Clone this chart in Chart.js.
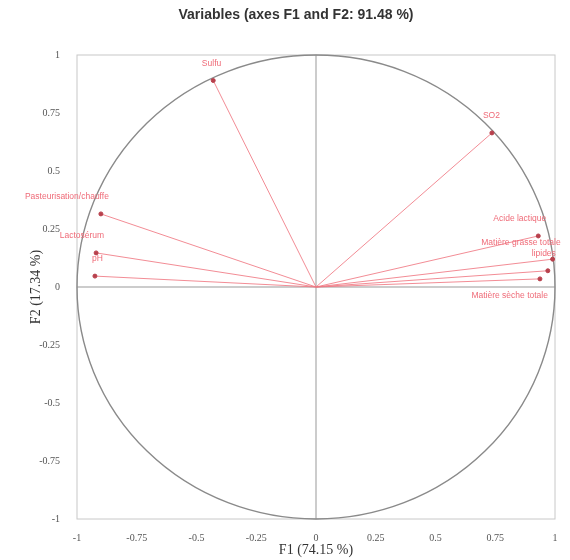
<!DOCTYPE html>
<html>
<head>
<meta charset="utf-8">
<script src="https://cdn.jsdelivr.net/npm/chart.js@4.4.0/dist/chart.umd.min.js"></script>
<style>
  html, body { margin: 0; padding: 0; background: #fff; }
  #wrap { width: 570px; height: 560px; }
</style>
</head>
<body>
<div id="wrap"><canvas id="myChart" width="570" height="560"></canvas></div>
<script>
  // variables (loadings on F1 / F2)
  const names = [
    'Sulfu',
    'SO2',
    'Pasteurisation/chauffe',
    'Lactosérum',
    'pH',
    'Acide lactique',
    'Matière grasse totale',
    'lipides',
    'Matière sèche totale'
  ];
  const f1 = [-0.43, 0.736, -0.90, -0.92, -0.925, 0.93, 0.99, 0.97, 0.937];
  const f2 = [0.89, 0.664, 0.315, 0.147, 0.047, 0.22, 0.12, 0.07, 0.035];
  const labelSide = ['above', 'above', 'above', 'above', 'above', 'above', 'above', 'above', 'below'];

  const tickValues = [-1, -0.75, -0.5, -0.25, 0, 0.25, 0.5, 0.75, 1];
  const tickLabels = ['-1', '-0.75', '-0.5', '-0.25', '0', '0.25', '0.5', '0.75', '1'];

  const lineColor = 'rgba(240, 120, 130, 0.85)';
  const pointColor = '#b8404c';
  const textColor = '#ef6b78';

  // one dataset per variable : a segment from origin to the loading
  const datasets = names.map(function(n, i) {
    return {
      label: n,
      data: [{x: 0, y: 0}, {x: f1[i], y: f2[i]}],
      borderColor: lineColor,
      borderWidth: 1,
      pointRadius: [0, 2],
      pointBackgroundColor: pointColor,
      pointBorderColor: pointColor,
      showLine: true,
      fill: false
    };
  });

  // draw frame, correlation circle, labels and title
  const circlePlugin = {
    id: 'circle',
    beforeDatasetsDraw(chart) {
      const ctx = chart.ctx;
      const a = chart.chartArea;
      const sx = chart.scales.x, sy = chart.scales.y;
      ctx.save();
      ctx.strokeStyle = '#c8c8c8';
      ctx.lineWidth = 1;
      ctx.strokeRect(a.left, a.top, a.right - a.left, a.bottom - a.top);
      ctx.strokeStyle = '#999';
      ctx.beginPath();
      ctx.moveTo(sx.getPixelForValue(0), a.top);
      ctx.lineTo(sx.getPixelForValue(0), a.bottom);
      ctx.moveTo(a.left, sy.getPixelForValue(0));
      ctx.lineTo(a.right, sy.getPixelForValue(0));
      ctx.stroke();
      const cx = sx.getPixelForValue(0), cy = sy.getPixelForValue(0);
      const rx = sx.getPixelForValue(1) - cx, ry = cy - sy.getPixelForValue(1);
      ctx.strokeStyle = '#8a8a8a';
      ctx.lineWidth = 1.4;
      ctx.beginPath();
      ctx.ellipse(cx, cy, rx, ry, 0, 0, Math.PI * 2);
      ctx.stroke();
      ctx.restore();
    },
    afterDatasetsDraw(chart) {
      const ctx = chart.ctx;
      const sx = chart.scales.x, sy = chart.scales.y;
      ctx.save();
      ctx.font = '8.5px "Liberation Sans", Arial, sans-serif';
      ctx.fillStyle = textColor;
      ctx.textAlign = 'right';
      ctx.textBaseline = 'middle';
      names.forEach(function(n, i) {
        const px = sx.getPixelForValue(f1[i]);
        const py = sy.getPixelForValue(f2[i]);
        const dy = labelSide[i] === 'below' ? 17 : -17;
        ctx.fillText(n, px + 8, py + dy);
      });
      ctx.fillStyle = '#333';
      ctx.font = 'bold 14px "Liberation Sans", Arial, sans-serif';
      ctx.textAlign = 'center';
      ctx.fillText('Variables (axes F1 and F2: 91.48 %)', 296, 15);
      ctx.restore();
    }
  };

  const tickFont = { family: '"Liberation Serif", "Times New Roman", serif', size: 10 };
  const titleFont = { family: '"Liberation Serif", "Times New Roman", serif', size: 14 };

  const config = {
    type: 'scatter',
    data: { datasets: datasets },
    options: {
      responsive: false,
      animation: false,
      layout: { padding: { top: 55, right: 15, left: 28, bottom: 0 } },
      plugins: {
        legend: { display: false },
        tooltip: { enabled: false },
        title: { display: false }
      },
      scales: {
        x: {
          type: 'linear', min: -1, max: 1,
          afterBuildTicks(s) { s.ticks = tickValues.map(v => ({value: v})); },
          afterFit(s) { s.height = 41; },
          grid: { display: false },
          border: { display: false },
          ticks: {
            color: '#555', font: tickFont, padding: 5, maxRotation: 0,
            callback: function(v) { return tickLabels[tickValues.indexOf(v)]; }
          },
          title: { display: true, text: 'F1 (74.15 %)', color: '#333', font: titleFont, padding: {top: 0, bottom: 1} }
        },
        y: {
          type: 'linear', min: -1, max: 1,
          afterBuildTicks(s) { s.ticks = tickValues.map(v => ({value: v})); },
          afterFit(s) { s.width = 49; },
          grid: { display: false },
          border: { display: false },
          ticks: {
            color: '#555', font: tickFont, padding: 9,
            callback: function(v) { return tickLabels[tickValues.indexOf(v)]; }
          },
          title: { display: true, text: 'F2 (17.34 %)', color: '#333', font: titleFont, padding: {top: 0, bottom: 4} }
        }
      }
    },
    plugins: [circlePlugin]
  };

  const myChart = new Chart(document.getElementById('myChart'), config);
</script>
</body>
</html>
